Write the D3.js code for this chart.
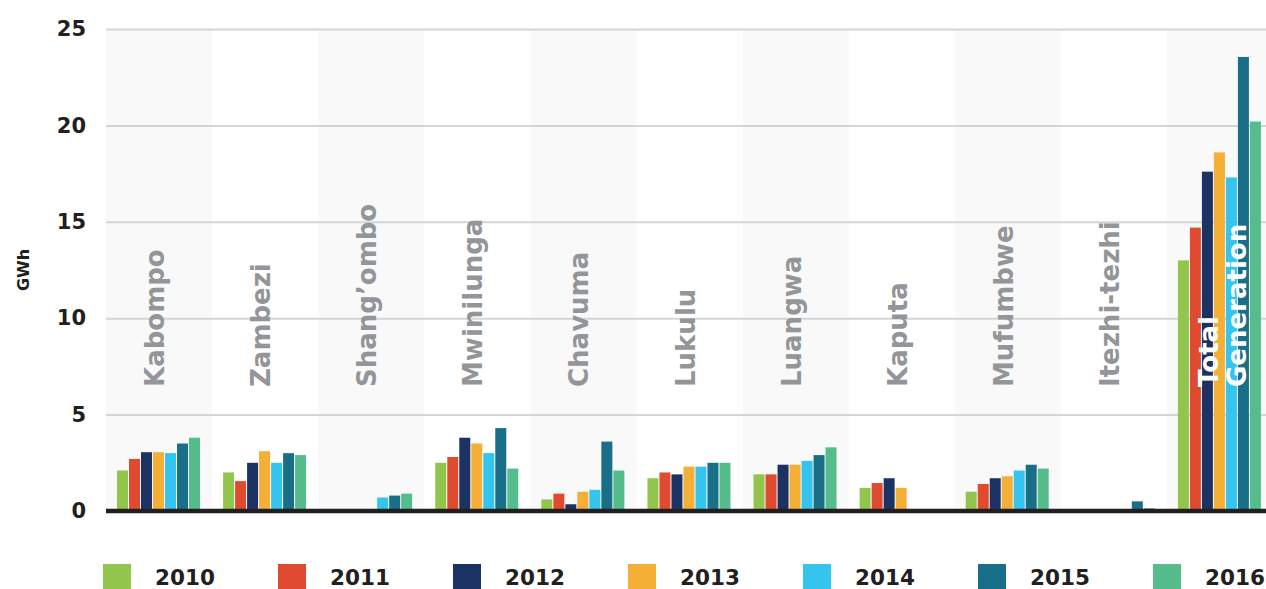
<!DOCTYPE html>
<html>
<head>
<meta charset="utf-8">
<script src="https://cdn.jsdelivr.net/npm/d3@7"></script>
<style>
  body { margin: 0; background: #fff; }
  svg { display: block; font-family: "DejaVu Sans", sans-serif; font-weight: bold; }
</style>
</head>
<body>
<div id="chart"></div>
<script>
// Data (GWh)
const categories = ["Kabompo", "Zambezi", "Shang’ombo", "Mwinilunga", "Chavuma", "Lukulu",
  "Luangwa", "Kaputa", "Mufumbwe", "Itezhi-tezhi", "Total Generation"];
const years = ["2010", "2011", "2012", "2013", "2014", "2015", "2016"];
const gen2010 = [2.1, 2.0, 0, 2.5, 0.6, 1.7, 1.9, 1.2, 1.0, 0, 13.0];
const gen2011 = [2.7, 1.55, 0, 2.8, 0.9, 2.0, 1.9, 1.45, 1.4, 0, 14.7];
const gen2012 = [3.05, 2.5, 0, 3.8, 0.35, 1.9, 2.4, 1.7, 1.7, 0, 17.6];
const gen2013 = [3.05, 3.1, 0, 3.5, 1.0, 2.3, 2.4, 1.2, 1.8, 0, 18.6];
const gen2014 = [3.0, 2.5, 0.7, 3.0, 1.1, 2.3, 2.6, 0, 2.1, 0, 17.3];
const gen2015 = [3.5, 3.0, 0.8, 4.3, 3.6, 2.5, 2.9, 0, 2.4, 0.5, 23.55];
const gen2016 = [3.8, 2.9, 0.9, 2.2, 2.1, 2.5, 3.3, 0, 2.2, 0.15, 20.2];
const yTicks = [0, 5, 10, 15, 20, 25];
const colors = ["#92c54b", "#e04a30", "#1c3263", "#f3af36", "#34c4ed", "#186f87", "#55bd8c"];

const series = [gen2010, gen2011, gen2012, gen2013, gen2014, gen2015, gen2016];

const width = 1266, height = 589;
const plotLeft = 106, plotRight = 1273, plotTop = 29, plotBottom = 511;

const svg = d3.select("#chart").append("svg")
  .attr("width", width)
  .attr("height", height)
  .attr("viewBox", [0, 0, width, height]);

const x0 = d3.scaleBand().domain(categories).range([plotLeft, plotRight]).padding(0);
const x1 = d3.scaleBand().domain(years).range([11, 94]).paddingInner(1 / 12).paddingOuter(0);
const y = d3.scaleLinear().domain([0, 25]).range([plotBottom, plotTop]);
const color = d3.scaleOrdinal().domain(years).range(colors);

// alternating background bands
svg.append("g")
  .selectAll("rect")
  .data(categories.filter((d, i) => i % 2 === 0))
  .join("rect")
    .attr("x", d => x0(d))
    .attr("y", plotTop)
    .attr("width", x0.bandwidth())
    .attr("height", plotBottom - plotTop)
    .attr("fill", "#f9f9f9");

// y axis + gridlines
const yAxis = svg.append("g")
  .attr("transform", `translate(${plotLeft},0)`)
  .call(d3.axisLeft(y).tickValues(yTicks).tickSize(-(width - plotLeft)).tickPadding(20));
yAxis.select(".domain").remove();
yAxis.selectAll(".tick line").attr("stroke", "#d4d5d6").attr("stroke-width", 2);
yAxis.selectAll(".tick text")
  .attr("fill", "#231f20")
  .attr("font-size", 21)
  .attr("font-family", "DejaVu Sans")
  .attr("font-weight", "bold");

svg.append("text")
  .attr("transform", `translate(29,270) rotate(-90)`)
  .attr("text-anchor", "middle")
  .attr("fill", "#231f20")
  .attr("font-size", 16)
  .text("GWh");

// bars
const rows = categories.map((c, i) => ({ cat: c, vals: years.map((yr, j) => ({ year: yr, value: series[j][i] })) }));

svg.append("g")
  .selectAll("g")
  .data(rows)
  .join("g")
    .attr("transform", d => `translate(${x0(d.cat)},0)`)
  .selectAll("rect")
  .data(d => d.vals.filter(v => v.value > 0))
  .join("rect")
    .attr("x", d => x1(d.year))
    .attr("y", d => y(d.value))
    .attr("width", x1.bandwidth())
    .attr("height", d => y(0) - y(d.value))
    .attr("fill", d => color(d.year));

// zero line
svg.append("line")
  .attr("x1", plotLeft)
  .attr("x2", width)
  .attr("y1", y(0))
  .attr("y2", y(0))
  .attr("stroke", "#231f20")
  .attr("stroke-width", 4.5);

// category labels (rotated)
const labelBase = 387;
svg.append("g")
  .selectAll("text")
  .data(categories.slice(0, -1))
  .join("text")
    .attr("transform", d => `translate(${x0(d) + x0.bandwidth() / 2 + 5},${labelBase}) rotate(-90)`)
    .attr("fill", "#939598")
    .attr("font-size", 26)
    .text(d => d);

const last = categories[categories.length - 1];
const lastCx = x0(last) + x0.bandwidth() / 2;
svg.append("g")
  .selectAll("text")
  .data(last.split(" "))
  .join("text")
    .attr("transform", (d, i) => `translate(${lastCx - 2 + i * 28},${labelBase}) rotate(-90)`)
    .attr("fill", "#ffffff")
    .attr("font-size", 26)
    .text(d => d);

// legend
const legend = svg.append("g")
  .selectAll("g")
  .data(years)
  .join("g")
    .attr("transform", (d, i) => `translate(${103 + i * 175},564)`);

legend.append("rect")
  .attr("width", 28)
  .attr("height", 28)
  .attr("fill", d => color(d));

legend.append("text")
  .attr("x", 52)
  .attr("y", 21)
  .attr("fill", "#231f20")
  .attr("font-size", 21.5)
  .text(d => d);
</script>
</body>
</html>
